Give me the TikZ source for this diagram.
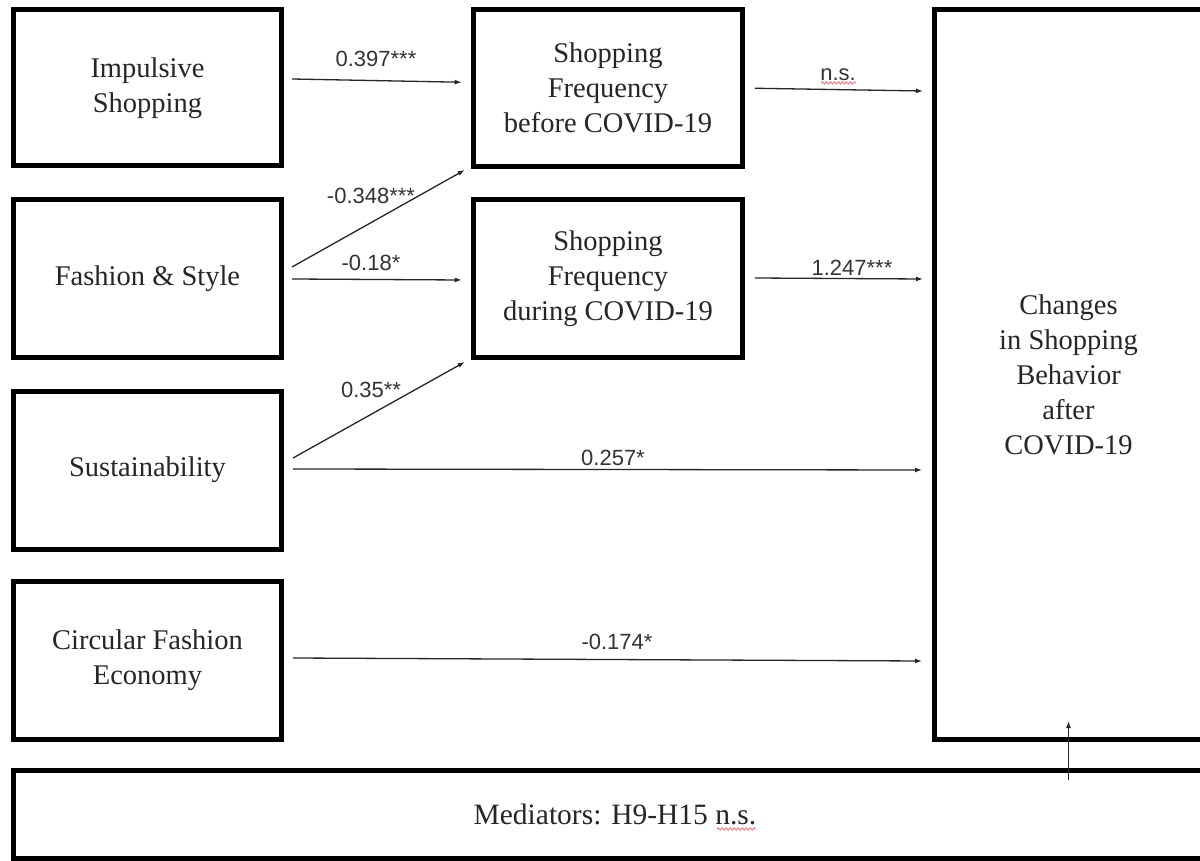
\documentclass[tikz,border=0pt]{standalone}
\usepackage{fontspec}
\setmainfont{Liberation Serif}
\newfontfamily\labfont{Liberation Sans}
\usetikzlibrary{arrows.meta,calc,decorations.pathmorphing}
\begin{document}
\begin{tikzpicture}[x=1pt,y=-1pt,
  box/.style={draw=black, line width=5pt, inner sep=0pt, align=center,
    font=\fontsize{28.5}{35}\selectfont, text=black!85},
  arr/.style={line width=1.3pt, draw=black!85, -{Latex[length=7pt,width=5pt]}},
  lab/.style={anchor=base, inner sep=0pt, font=\labfont\fontsize{22}{24}\selectfont, text=black!80},
  squig/.style={draw=red!60, line width=0.8pt, decorate,
    decoration={snake, amplitude=1.2pt, segment length=4pt}}]
\useasboundingbox (0,0) rectangle (1200,861);
\fill[white] (0,0) rectangle (1200,861);

\node[box, minimum width=268pt, minimum height=156pt] (imp) at (147.5,88) {Impulsive\\Shopping};
\node[box, minimum width=268pt, minimum height=157pt] (fas) at (147.5,278.5) {Fashion \& Style};
\node[box, minimum width=268pt, minimum height=158pt] (sus) at (147.5,470) {Sustainability};
\node[box, minimum width=268pt, minimum height=158pt] (cir) at (147.5,660) {Circular Fashion\\Economy};
\node[box, minimum width=268.5pt, minimum height=156.5pt] (bef) at (608,88.25) {Shopping\\Frequency\\before COVID-19};
\node[box, minimum width=268.5pt, minimum height=157pt] (dur) at (608,278.5) {Shopping\\Frequency\\during COVID-19};
\node[box, minimum width=269pt, minimum height=729pt] (chg) at (1068.5,374.5) {Changes\\in Shopping\\Behavior\\after\\COVID-19};
\node[box, minimum width=1203pt, minimum height=88pt, font=\fontsize{29.5}{35}\selectfont] (med) at (615,814.5) {Mediators: H9-H15 n.s.};

\draw[arr] ([shift={(8,-9)}]imp.east) -- ([shift={(-9.5,-6)}]bef.west);
\draw[arr] ([shift={(8,-11.5)}]fas.east) -- ([shift={(-6.5,1)}]bef.south west);
\draw[arr] ([shift={(8,0.5)}]fas.east) -- ([shift={(-9.5,1.5)}]dur.west);
\draw[arr] ([shift={(9,-12)}]sus.east) -- ([shift={(-6.5,2.5)}]dur.south west);
\draw[arr] ([shift={(9,-1)}]sus.east) -- ([shift={(-9.5,95.5)}]chg.west);
\draw[arr] ([shift={(9,-2)}]cir.east) -- ([shift={(-9.5,286.5)}]chg.west);
\draw[arr] ([shift={(10,0)}]bef.east) -- ([shift={(-8.5,-283.5)}]chg.west);
\draw[arr] ([shift={(10,-0.5)}]dur.east) -- ([shift={(-8.5,-95.5)}]chg.west);
\draw[arr] ($(med.north -| chg.south)+(0,12)$) -- ($(chg.south)+(0,-20.5)$);

\node[lab] (l1) at (376,67) {0.397***};
\node[lab] (l2) at (371,204) {-0.348***};
\node[lab] (l3) at (371,271) {-0.18*};
\node[lab] (l4) at (371,397) {0.35**};
\node[lab] (l5) at (613,465) {0.257*};
\node[lab] (l6) at (617,649) {-0.174*};
\node[lab] (l7) at (838,81) {n.s.};
\node[lab] (l8) at (852,276) {1.247***};

\draw[squig] ($(l7.south west)+(1,1.5)$) -- ($(l7.south east)+(0,1.5)$);
\coordinate (ns) at (717,829);
\draw[squig] (ns) -- ++(39,0);
\end{tikzpicture}
\end{document}
